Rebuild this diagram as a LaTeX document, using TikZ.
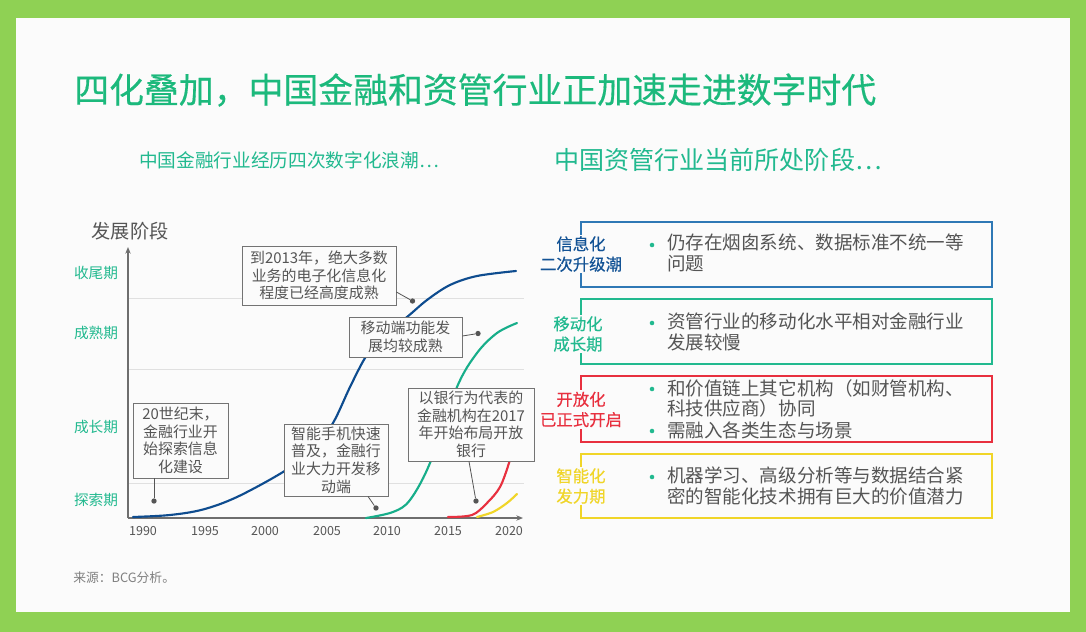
\documentclass[tikz,border=0pt]{standalone}
\usepackage{fontspec}
\setmainfont{Noto Sans CJK SC}
\newfontfamily\semibold[FakeBold=0.35]{Noto Sans CJK SC}
\usetikzlibrary{arrows.meta}
\definecolor{frame}{HTML}{8FD154}
\definecolor{paper}{HTML}{FBFBFB}
\definecolor{titlegreen}{HTML}{1CB97C}
\definecolor{subteal}{HTML}{22B98F}
\definecolor{navy}{HTML}{0E4C8F}
\definecolor{cblue}{HTML}{2F78B5}
\definecolor{teal}{HTML}{17AE8A}
\definecolor{cred}{HTML}{E8303F}
\definecolor{cyellow}{HTML}{F0D528}
\definecolor{ink}{HTML}{555555}
\tikzset{
  px/.style={x=0.75pt,y=-0.75pt},
  callout/.style={draw=black!55,fill=paper,line width=0.6pt,inner sep=0pt,align=center,text=ink,font=\fontsize{11.2}{13.2}\selectfont},
  leader/.style={draw=ink,line width=0.6pt},
  enddot/.style={circle,fill=ink,inner sep=0pt,minimum size=4pt},
  stage/.style={text=subteal,font=\fontsize{11}{13}\selectfont,inner sep=0pt},
  tick/.style={text=ink,font=\fontsize{9.4}{11}\selectfont,inner sep=0pt},
  axis/.style={draw=ink!85,line width=0.9pt,-{Stealth[length=5pt,width=4pt]}},
  gridline/.style={draw=black!12,line width=0.7pt},
  curve/.style={line width=1.6pt,smooth,tension=0.55,line cap=round},
  panel/.style={fill=none,line width=1.1pt,inner sep=0pt},
  phase/.style={fill=paper,inner xsep=1pt,inner ysep=1pt,align=center,font=\semibold\fontsize{12.3}{15.2}\selectfont},
  itemtext/.style={anchor=west,inner sep=0pt,align=left,text=ink,font=\fontsize{13.9}{15.3}\selectfont},
  bullet/.style={circle,fill=subteal,inner sep=0pt,minimum size=3.4pt},
}
\begin{document}
\begin{tikzpicture}[px]
\fill[frame] (0,0) rectangle (1086,632);
\fill[paper] (16,18) rectangle (1070,612);

\node[anchor=west,inner sep=0pt,text=titlegreen,font=\semibold\fontsize{26.15}{30}\selectfont] (title) at (74,90) {四化叠加，中国金融和资管行业正加速走进数字时代};
\node[anchor=west,inner sep=0pt,text=subteal,font=\fontsize{14}{16}\selectfont] (subl) at (139,160) {中国金融行业经历四次数字化浪潮…};
\node[anchor=west,inner sep=0pt,text=subteal,font=\fontsize{18.8}{22}\selectfont] (subr) at (554,160) {中国资管行业当前所处阶段…};

% chart
\coordinate (origin) at (128,518);
\coordinate (ytop) at (128,247);
\coordinate (xend) at (523,518);
\draw[gridline] (128,298) -- (524,298);
\draw[gridline] (128,369) -- (524,369);
\draw[gridline] (128,483) -- (524,483);
\draw[axis] (origin) -- (ytop);
\draw[axis] (origin) -- (xend);
\node[text=ink,inner sep=0pt,font=\fontsize{14.4}{17}\selectfont] (ylab) at (130,231) {发展阶段};

\node[stage] (s1) at (96,273) {收尾期};
\node[stage] (s2) at (96,333) {成熟期};
\node[stage] (s3) at (96,427) {成长期};
\node[stage] (s4) at (96,500) {探索期};

\node[tick] (t1) at (143,531) {1990};
\node[tick] (t2) at (205,531) {1995};
\node[tick] (t3) at (265,531) {2000};
\node[tick] (t4) at (327,531) {2005};
\node[tick] (t5) at (387,531) {2010};
\node[tick] (t6) at (448,531) {2015};
\node[tick] (t7) at (509,531) {2020};

\draw[curve,draw=navy] plot coordinates {(133,517) (170,515) (203,509.5) (237,497) (283,472) (313,450) (333,423) (350,387) (365,358) (380,338) (407,317) (427,300) (450,285) (477,276) (516,271)};
\draw[curve,draw=teal] plot coordinates {(366,518) (393,512) (410,500) (430,463) (457,387) (477,353) (497,333) (517,323)};
\draw[curve,draw=cred] plot coordinates {(448,517) (472,515) (487,503) (500,487) (509,463) (512,450)};
\draw[curve,draw=cyellow] plot coordinates {(477,517) (493,512) (507,503) (517,494)};

% callouts
\node[callout,minimum width=95*0.75pt,minimum height=75*0.75pt] (ca) at (180.5,440.5) {20世纪末，\\金融行业开\\始探索信息\\化建设};
\node[callout,minimum width=154*0.75pt,minimum height=59*0.75pt] (cb) at (319,275.5) {到2013年，绝大多数\\业务的电子化信息化\\程度已经高度成熟};
\node[callout,minimum width=113*0.75pt,minimum height=40*0.75pt] (cc) at (405.5,337) {移动端功能发\\展均较成熟};
\node[callout,minimum width=104*0.75pt,minimum height=72*0.75pt] (cd) at (336,460) {智能手机快速\\普及，金融行\\业大力开发移\\动端};
\node[callout,minimum width=126*0.75pt,minimum height=73*0.75pt] (ce) at (471,424.5) {以银行为代表的\\金融机构在2017\\年开始布局开放\\银行};

\node[enddot] (da) at (154,501) {};
\node[enddot] (db) at (412.5,301) {};
\node[enddot] (dc) at (478,333.5) {};
\node[enddot] (dd) at (376,508) {};
\node[enddot] (de) at (476,501) {};
\draw[leader] (ca.south -| da) -- (da);
\draw[leader] (cb.east) ++(0,16.5) -- (db);
\draw[leader] (cc.east) ++(0,-1) -- (dc);
\draw[leader] (cd.south) ++(32,0) -- (dd);
\draw[leader] (ce.south) ++(-2,0) -- (de);

% right panels
\node[panel,draw=cblue,minimum width=411*0.75pt,minimum height=65*0.75pt] (p1) at (786.5,254.5) {};
\node[panel,draw=subteal,minimum width=411*0.75pt,minimum height=65*0.75pt] (p2) at (786.5,331.5) {};
\node[panel,draw=cred,minimum width=411*0.75pt,minimum height=66*0.75pt] (p3) at (786.5,409) {};
\node[panel,draw=cyellow,minimum width=411*0.75pt,minimum height=64*0.75pt] (p4) at (786.5,486) {};

\node[phase,text=navy!85!cblue] (l1) at (581,254) {信息化\\二次升级潮};
\node[phase,text=subteal] (l2) at (578,334) {移动化\\成长期};
\node[phase,text=cred] (l3) at (581,409.5) {开放化\\已正式开启};
\node[phase,text=cyellow] (l4) at (581,486) {智能化\\发力期};

\node[bullet] (b1) at (652,245) {};
\node[bullet] (b2) at (652,323) {};
\node[bullet] (b3) at (652,389) {};
\node[bullet] (b4) at (652,431) {};
\node[bullet] (b5) at (652,477) {};

\node[itemtext] (i1) at (667,253) {仍存在烟囱系统、数据标准不统一等\\问题};
\node[itemtext] (i2) at (667,332) {资管行业的移动化水平相对金融行业\\发展较慢};
\node[itemtext] (i3) at (667,398.5) {和价值链上其它机构（如财管机构、\\科技供应商）协同};
\node[itemtext] (i4) at (667,430) {需融入各类生态与场景};
\node[itemtext] (i5) at (667,486) {机器学习、高级分析等与数据结合紧\\密的智能化技术拥有巨大的价值潜力};

\node[anchor=west,inner sep=0pt,text=black!50,font=\fontsize{9.6}{12}\selectfont] (src) at (73,578) {来源：BCG分析。};
\end{tikzpicture}
\end{document}
